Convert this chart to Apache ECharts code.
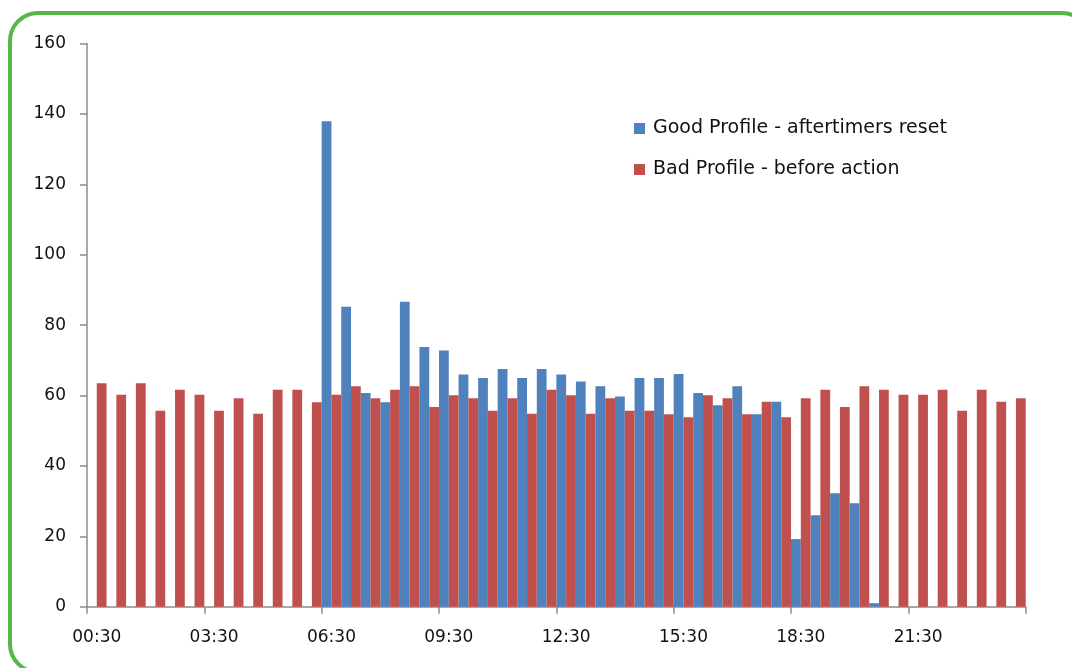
<!DOCTYPE html>
<html>
<head>
<meta charset="utf-8">
<script src="https://cdn.jsdelivr.net/npm/echarts@6/dist/echarts.min.js"></script>
<style>
  html, body { margin: 0; padding: 0; background: #fff; overflow: hidden; }
  #frame { position: absolute; left: 8px; top: 11px; width: 1084px; height: 663px;
           border: 4px solid #57b649; border-radius: 30px; box-sizing: border-box; }
  #chart { position: absolute; left: 0; top: 0; width: 1072px; height: 668px; }
</style>
</head>
<body>
<div id="frame"></div>
<div id="chart"></div>
<script>
// Categories: half-hour slots
const categories = [
  "00:30","01:00","01:30","02:00","02:30","03:00","03:30","04:00","04:30","05:00","05:30","06:00",
  "06:30","07:00","07:30","08:00","08:30","09:00","09:30","10:00","10:30","11:00","11:30","12:00",
  "12:30","13:00","13:30","14:00","14:30","15:00","15:30","16:00","16:30","17:00","17:30","18:00",
  "18:30","19:00","19:30","20:00","20:30","21:00","21:30","22:00","22:30","23:00","23:30","24:00"
];
const goodProfile = [
  null, null, null, null, null, null, null, null, null, null, null, null,
  137.9, 85.2, 60.7, 58.1, 86.6, 73.8, 72.8, 66.0, 65.0, 67.5, 65.0, 67.5,
  66.0, 64.0, 62.6, 59.7, 65.0, 65.0, 66.1, 60.7, 57.2, 62.6, 54.7, 58.2,
  19.2, 26.0, 32.2, 29.4, 1.0, null, null, null, null, null, null, null
];
const badProfile = [
  63.5, 60.2, 63.5, 55.7, 61.6, 60.2, 55.7, 59.2, 54.8, 61.6, 61.6, 58.1,
  60.2, 62.6, 59.2, 61.6, 62.6, 56.7, 60.1, 59.2, 55.7, 59.2, 54.8, 61.6,
  60.1, 54.8, 59.2, 55.7, 55.7, 54.7, 53.8, 60.1, 59.2, 54.7, 58.2, 53.8,
  59.2, 61.6, 56.7, 62.6, 61.6, 60.2, 60.2, 61.6, 55.7, 61.6, 58.2, 59.2
];
const yTicks = { min: 0, max: 160, interval: 20 };
const seriesNames = ["Good Profile - aftertimers reset", "Bad Profile - before action"];

const FONT = "DejaVu Sans";
const chart = echarts.init(document.getElementById('chart'), null, { renderer: 'canvas' });
chart.setOption({
  animation: false,
  textStyle: { fontFamily: FONT },
  grid: { left: 87, right: 46.3, top: 43.5, bottom: 61.3, containLabel: false },
  legend: {
    orient: 'vertical',
    left: 629,
    top: 114,
    itemWidth: 11,
    itemHeight: 11,
    itemGap: 22,
    icon: 'rect',
    textStyle: { fontFamily: FONT, fontSize: 19, color: '#111', padding: [0, 0, 0, 3] },
    data: seriesNames
  },
  xAxis: {
    type: 'category',
    data: categories,
    boundaryGap: true,
    axisLine: { lineStyle: { color: '#8c8c8c', width: 1.5 } },
    axisTick: { show: true, interval: 5, length: 7, alignWithLabel: false, lineStyle: { color: '#8c8c8c', width: 1.5 } },
    axisLabel: { interval: 5, fontFamily: FONT, fontSize: 17, color: '#111', margin: 22 },
    splitLine: { show: false }
  },
  yAxis: {
    type: 'value',
    min: yTicks.min, max: yTicks.max, interval: yTicks.interval,
    axisLine: { show: true, lineStyle: { color: '#8c8c8c', width: 1.5 } },
    axisTick: { show: true, length: 7, lineStyle: { color: '#8c8c8c', width: 1.5 } },
    axisLabel: { fontFamily: FONT, fontSize: 17, color: '#111', margin: 21 },
    splitLine: { show: false }
  },
  series: [
    { name: seriesNames[0], type: 'bar', data: goodProfile, barGap: '0%', barCategoryGap: '0%',
      itemStyle: { color: '#4f81bd' } },
    { name: seriesNames[1], type: 'bar', data: badProfile, barGap: '0%', barCategoryGap: '0%',
      itemStyle: { color: '#c0504d' } }
  ]
});
</script>
</body>
</html>
